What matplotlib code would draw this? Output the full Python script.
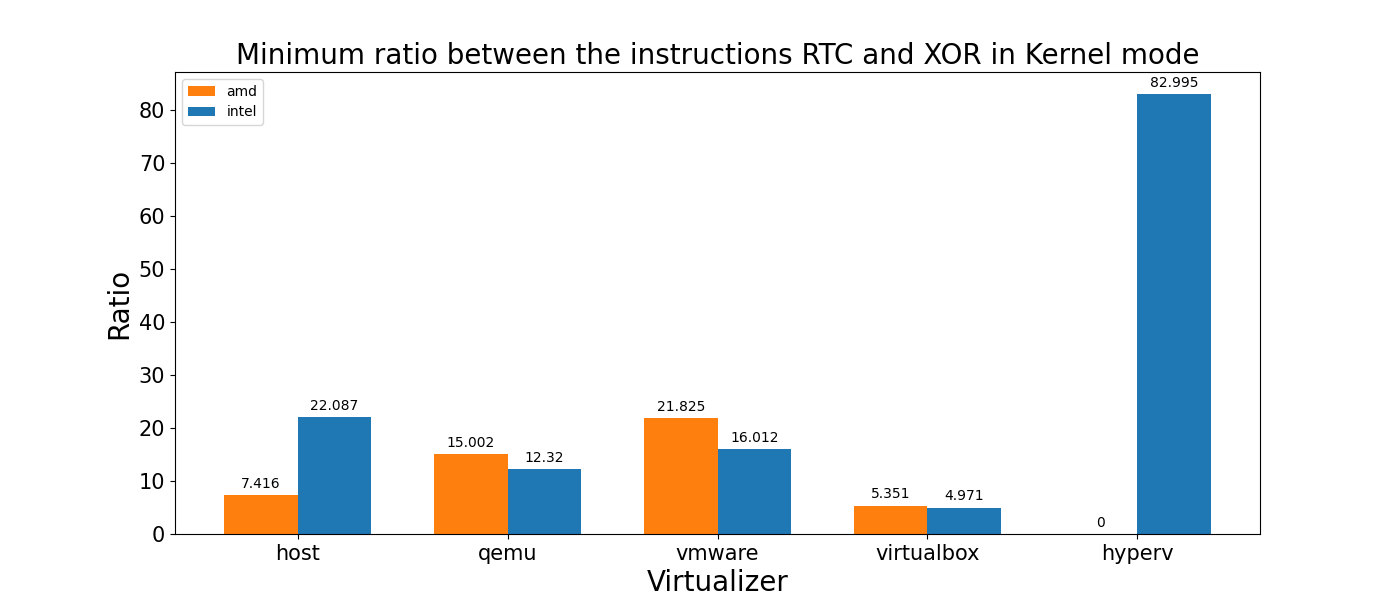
import matplotlib
matplotlib.use("Agg")
import matplotlib.pyplot as plt
import numpy as np

virtualizers = ["host", "qemu", "vmware", "virtualbox", "hyperv"]
amd = [7.416, 15.002, 21.825, 5.351, 0]
intel = [22.087, 12.32, 16.012, 4.971, 82.995]

x = np.arange(len(virtualizers))
width = 0.35

fig, ax = plt.subplots(figsize=(14, 6), dpi=100)
b1 = ax.bar(x - width / 2, amd, width, label="amd", color="#ff7f0e")
b2 = ax.bar(x + width / 2, intel, width, label="intel", color="#1f77b4")

ax.bar_label(b1, padding=3, fontsize=10)
ax.bar_label(b2, padding=3, fontsize=10)

ax.set_title("Minimum ratio between the instructions RTC and XOR in Kernel mode", fontsize=20)
ax.set_ylabel("Ratio", fontsize=20)
ax.set_xlabel("Virtualizer", fontsize=20)
ax.set_xticks(x)
ax.set_xticklabels(virtualizers)
ax.tick_params(axis="both", labelsize=15)
ax.legend(loc="upper left")

fig.savefig("out.png")
